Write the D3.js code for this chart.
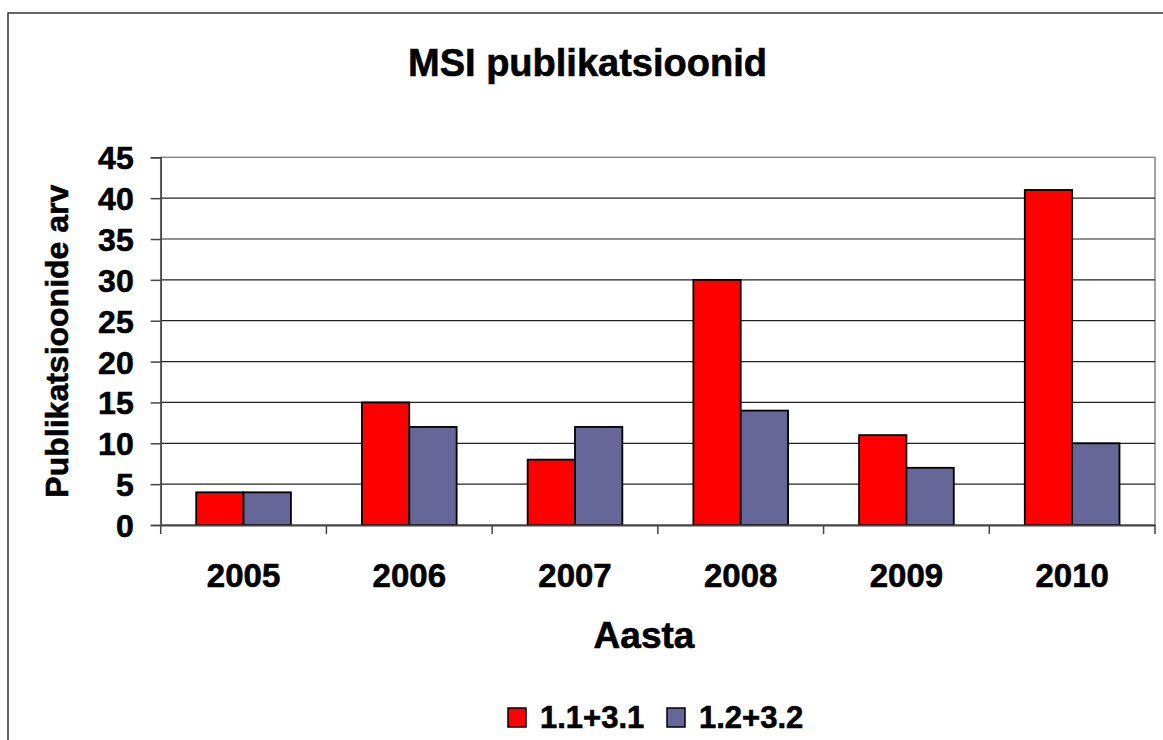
<!DOCTYPE html>
<html>
<head>
<meta charset="utf-8">
<script src="https://cdn.jsdelivr.net/npm/d3@7"></script>
<style>
  html, body { margin: 0; padding: 0; background: #fff; }
  svg { display: block; font-family: "Liberation Sans", Arial, sans-serif; font-weight: bold; }
  svg text { fill: #000; stroke: #000; stroke-width: 0.6px; }
</style>
</head>
<body>
<svg id="chart" width="1163" height="740"></svg>
<script>
const categories = ["2005", "2006", "2007", "2008", "2009", "2010"];
const seriesNames = ["1.1+3.1", "1.2+3.2"];
const seriesA = [4, 15, 8, 30, 11, 41];
const seriesB = [4, 12, 12, 14, 7, 10];
const yTicks = [0, 5, 10, 15, 20, 25, 30, 35, 40, 45];
const colors = ["#FF0000", "#666699"];
const titleText = "MSI publikatsioonid";
const yTitle = "Publikatsioonide arv";
const xTitle = "Aasta";

const svg = d3.select("#chart");
const W = 1163, H = 740;

// outer frame
svg.append("rect").attr("x", 8).attr("y", 13).attr("width", W + 20).attr("height", H + 20)
  .attr("fill", "#fff").attr("stroke", "#333").attr("stroke-width", 1.5);

const plot = { left: 160.7, top: 157.3, right: 1155, bottom: 525 };

const x0 = d3.scaleBand().domain(categories).range([plot.left, plot.right]).padding(0);
const x1 = d3.scaleBand().domain(seriesNames).range([0, x0.bandwidth()]).paddingInner(0).paddingOuter(0.75);
const y = d3.scaleLinear().domain([0, 45]).range([plot.bottom, plot.top]);

// plot area border (top/right gray)
svg.append("rect").attr("x", plot.left).attr("y", plot.top)
  .attr("width", plot.right - plot.left).attr("height", plot.bottom - plot.top)
  .attr("fill", "none").attr("stroke", "#888").attr("stroke-width", 1.5);

// gridlines
svg.append("g").selectAll("line").data(yTicks.filter(d => d > 0 && d < 45)).join("line")
  .attr("x1", plot.left).attr("x2", plot.right)
  .attr("y1", d => y(d)).attr("y2", d => y(d))
  .attr("stroke", "#222").attr("stroke-width", 1.2);

// bars
const data = categories.map((c, i) => ({ cat: c, vals: [seriesA[i], seriesB[i]] }));
const groups = svg.append("g").selectAll("g").data(data).join("g")
  .attr("transform", d => `translate(${x0(d.cat)},0)`);
groups.selectAll("rect").data(d => d.vals.map((v, j) => ({ s: seriesNames[j], v, j }))).join("rect")
  .attr("x", d => x1(d.s)).attr("width", x1.bandwidth())
  .attr("y", d => y(d.v)).attr("height", d => y(0) - y(d.v))
  .attr("fill", d => colors[d.j]).attr("stroke", "#000").attr("stroke-width", 1.8);

// y axis
const yAxis = d3.axisLeft(y).tickValues(yTicks).tickSize(10).tickPadding(17);
const gy = svg.append("g").attr("transform", `translate(${plot.left},0)`).call(yAxis);
gy.select(".domain").attr("stroke", "#444").attr("stroke-width", 1.5);
gy.selectAll(".tick line").attr("stroke", "#444").attr("stroke-width", 1.5);
gy.selectAll(".tick text").attr("font-size", 32).attr("font-weight", "bold")
  .attr("font-family", "Liberation Sans, Arial, sans-serif").attr("dy", "0.36em");

// x axis
const xAxis = d3.axisBottom(x0).tickSize(0).tickPadding(0);
const gx = svg.append("g").attr("transform", `translate(0,${plot.bottom})`).call(xAxis);
gx.select(".domain").attr("stroke", "#444").attr("stroke-width", 2);
gx.selectAll(".tick text").attr("font-size", 33).attr("font-weight", "bold")
  .attr("font-family", "Liberation Sans, Arial, sans-serif")
  .attr("y", 62).attr("dy", 0);
// category boundary ticks
const bounds = categories.map(c => x0(c)).concat([plot.right]);
svg.append("g").selectAll("line").data(bounds).join("line")
  .attr("x1", d => d).attr("x2", d => d)
  .attr("y1", plot.bottom).attr("y2", plot.bottom + 9)
  .attr("stroke", "#444").attr("stroke-width", 1.5);

// title
svg.append("text").attr("x", 587.5).attr("y", 76).attr("text-anchor", "middle")
  .attr("font-size", 38).text(titleText);

// axis titles
svg.append("text").attr("transform", `translate(68,${(plot.top + plot.bottom) / 2}) rotate(-90)`)
  .attr("text-anchor", "middle").attr("font-size", 32).text(yTitle);
svg.append("text").attr("x", 644).attr("y", 648).attr("text-anchor", "middle")
  .attr("font-size", 37).text(xTitle);

// legend
const legendX = [508, 667];
const lg = svg.append("g").selectAll("g").data(seriesNames).join("g")
  .attr("transform", (d, i) => `translate(${legendX[i]},708)`);
lg.append("rect").attr("width", 18).attr("height", 19)
  .attr("fill", (d, i) => colors[i]).attr("stroke", "#000").attr("stroke-width", 1.5);
lg.append("text").attr("x", 32).attr("y", 20).attr("font-size", 31).text(d => d);
</script>
</body>
</html>
